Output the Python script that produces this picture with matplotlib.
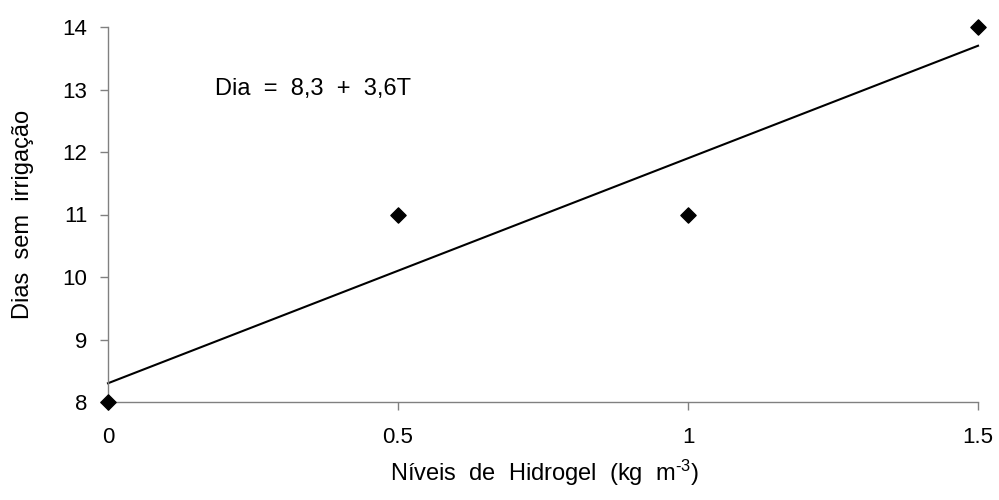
import matplotlib
matplotlib.use("Agg")
import matplotlib.pyplot as plt
import numpy as np

plt.rcParams['font.family'] = ['Liberation Sans', 'DejaVu Sans']
plt.rcParams['mathtext.fontset'] = 'custom'
plt.rcParams['mathtext.rm'] = 'Liberation Sans'
plt.rcParams['mathtext.it'] = 'Liberation Sans:italic'
plt.rcParams['mathtext.bf'] = 'Liberation Sans:bold'
plt.rcParams['mathtext.default'] = 'regular'

# Observed data
hidrogel = [0, 0.5, 1, 1.5]
dias = [8, 11, 11, 14]

# Fitted regression: Dia = 8,3 + 3,6T
intercept = 8.3
slope = 3.6
x_fit = np.array([0, 1.5])
y_fit = intercept + slope * x_fit

x_ticks = [0, 0.5, 1, 1.5]
x_tick_labels = ["0", "0.5", "1", "1.5"]
y_ticks = [8, 9, 10, 11, 12, 13, 14]

fig = plt.figure(figsize=(9.99, 5.0), dpi=100)
ax = fig.add_axes([0.1081, 0.196, 0.8709, 0.75])

ax.plot(x_fit, y_fit, color='black', linewidth=1.5, clip_on=False)
ax.scatter(hidrogel, dias, marker='D', s=60, color='black', zorder=3, clip_on=False)

ax.set_xlim(0, 1.5)
ax.set_ylim(8, 14)
ax.set_xticks(x_ticks)
ax.set_xticklabels(x_tick_labels)
ax.set_yticks(y_ticks)

for side in ['top', 'right']:
    ax.spines[side].set_visible(False)
for side in ['left', 'bottom']:
    ax.spines[side].set_color('#808080')
    ax.spines[side].set_linewidth(1.0)

ax.tick_params(axis='both', colors='#808080', length=6, width=1.0,
               labelsize=16, labelcolor='black', direction='out')
ax.tick_params(axis='x', pad=12)
ax.tick_params(axis='y', pad=9)

ax.text(0.1845, 12.91, "Dia  =  8,3  +  3,6T", fontsize=17, ha='left', va='baseline')

ax.set_xlabel(r"Níveis  de  Hidrogel  (kg  m$^{\text{-3}}$)", fontsize=17)
ax.set_ylabel("Dias  sem  irrigação", fontsize=17)
ax.xaxis.set_label_coords(0.502, -0.149)
ax.yaxis.set_label_coords(-0.085, 0.499)

fig.savefig("out.png", dpi=100)
